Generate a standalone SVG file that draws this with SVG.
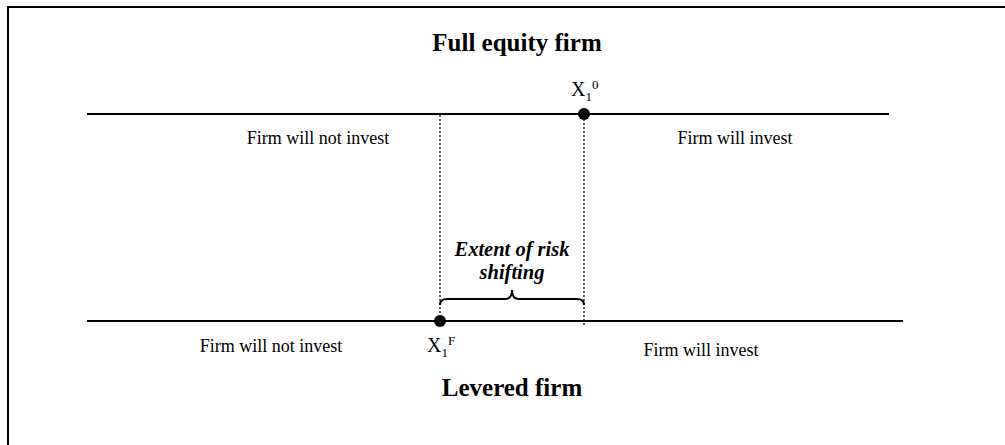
<svg xmlns="http://www.w3.org/2000/svg" width="1005" height="445" viewBox="0 0 1005 445">
<style>
.t{font-family:"Liberation Serif",serif;font-size:18px;fill:#000}
.x{font-family:"Liberation Serif",serif;font-size:20px;fill:#000}
.h{font-family:"Liberation Serif",serif;font-size:25px;font-weight:bold;fill:#000}
.bi{font-family:"Liberation Serif",serif;font-size:20.5px;font-weight:bold;font-style:italic;fill:#000}
.ln{stroke:#000;stroke-width:2;fill:none}
.dot{stroke:#000;stroke-width:1.3;stroke-dasharray:2,2;fill:none}
</style>
<rect x="8" y="7" width="1010" height="450" fill="#fff" stroke="#000" stroke-width="2"/>
<g id="connectors">
<line class="ln" x1="87" y1="114" x2="889" y2="114"/>
<line class="ln" x1="87" y1="321" x2="903" y2="321"/>
<line class="dot" x1="440" y1="115" x2="440" y2="320"/>
<line class="dot" x1="584" y1="115" x2="584" y2="327"/>
<path class="ln" d="M440,305 Q440,299 447,299 L505,299 Q512,299 512,290 Q512,299 519,299 L577,299 Q584,299 584,305"/>
</g>
<g id="title-top"><text class="h" x="517" y="51" text-anchor="middle">Full equity firm</text></g>
<g id="x10"><circle cx="584" cy="114" r="6" fill="#000"/><text class="x" x="571" y="96">X<tspan font-size="13" dy="5">1</tspan><tspan font-size="13" dy="-12">0</tspan></text></g>
<g id="top-left"><text class="t" x="318" y="144" text-anchor="middle">Firm will not invest</text></g>
<g id="top-right"><text class="t" x="735" y="144" text-anchor="middle">Firm will invest</text></g>
<g id="extent"><text class="bi" x="512" y="256" text-anchor="middle">Extent of risk</text><text class="bi" x="512" y="279" text-anchor="middle">shifting</text></g>
<g id="x1f"><circle cx="440" cy="321" r="6" fill="#000"/><text class="x" x="427" y="352">X<tspan font-size="13" dy="5">1</tspan><tspan font-size="13" dy="-12">F</tspan></text></g>
<g id="bot-left"><text class="t" x="271" y="352" text-anchor="middle">Firm will not invest</text></g>
<g id="bot-right"><text class="t" x="701" y="356" text-anchor="middle">Firm will invest</text></g>
<g id="title-bot"><text class="h" x="512" y="396" text-anchor="middle">Levered firm</text></g>
</svg>
